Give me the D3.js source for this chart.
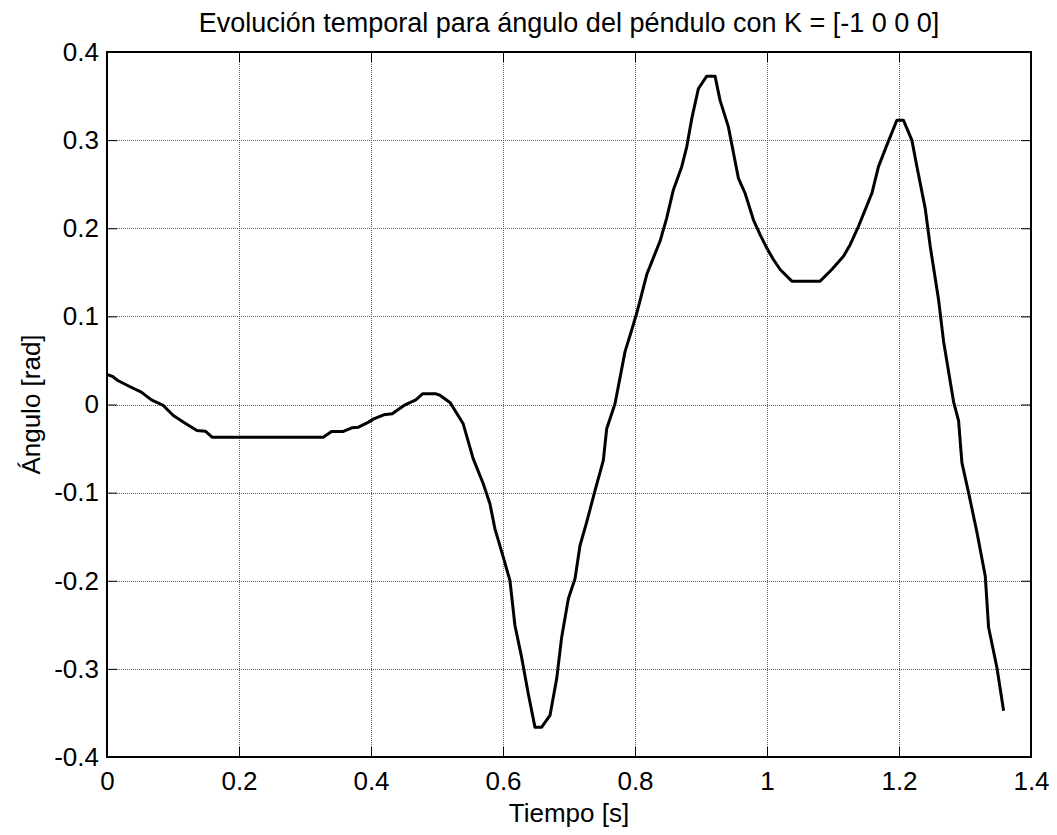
<!DOCTYPE html>
<html>
<head>
<meta charset="utf-8">
<script src="https://cdn.jsdelivr.net/npm/d3@7"></script>
<style>
  body { margin: 0; background: #fff; }
  svg text { font-family: "Liberation Sans", Arial, sans-serif; fill: #000; }
</style>
</head>
<body>
<script>
// tiempo [s] y ángulo [rad]
const tiempo = [
  0, 0.008, 0.0163, 0.0342, 0.052, 0.0673, 0.0852, 0.1005, 0.1184, 0.1362,
  0.149, 0.1592, 0.3276, 0.3403, 0.3582, 0.3709, 0.3811, 0.3964, 0.4041, 0.4194,
  0.4321, 0.45, 0.4679, 0.4781, 0.4985, 0.5045, 0.52, 0.5397, 0.5549, 0.56,
  0.5701, 0.5802, 0.5878, 0.6004, 0.6105, 0.6181, 0.6282, 0.6383, 0.6484, 0.6586,
  0.6712, 0.6813, 0.6889, 0.699, 0.7091, 0.7167, 0.7268, 0.7394, 0.752, 0.7571,
  0.7697, 0.7849, 0.795, 0.8026, 0.8178, 0.8278, 0.8379, 0.848, 0.8581, 0.8708,
  0.8784, 0.886, 0.896, 0.9087, 0.9213, 0.9289, 0.9415, 0.9567, 0.9668, 0.9794,
  0.9895, 0.9997, 1.0097, 1.0199, 1.0376, 1.0805, 1.0982, 1.1159, 1.126, 1.1386,
  1.1589, 1.1689, 1.1816, 1.1968, 1.2068, 1.2195, 1.2271, 1.2397, 1.2473, 1.2599,
  1.2675, 1.2827, 1.2903, 1.2953, 1.3054, 1.3181, 1.3307, 1.3357, 1.3484, 1.3585
];
const angulo = [
  0.034, 0.032, 0.0272, 0.0204, 0.014, 0.0053, -0.0011, -0.0125, -0.0212, -0.0295,
  -0.0303, -0.0371, -0.0371, -0.0306, -0.0306, -0.0265, -0.0257, -0.02, -0.0163, -0.0117,
  -0.0106, -0.0011, 0.0053, 0.0121, 0.0121, 0.0105, 0.002, -0.0219, -0.0617, -0.0711,
  -0.09, -0.1127, -0.1411, -0.1732, -0.1997, -0.2508, -0.2867, -0.3283, -0.3661, -0.3661,
  -0.3529, -0.3113, -0.264, -0.2205, -0.1978, -0.16, -0.1335, -0.0976, -0.0635, -0.0276,
  0.0008, 0.06, 0.0845, 0.1035, 0.1475, 0.1664, 0.1852, 0.2115, 0.2435, 0.2699,
  0.2924, 0.3244, 0.3583, 0.3726, 0.3726, 0.3451, 0.315, 0.2567, 0.2397, 0.2096,
  0.1927, 0.1776, 0.1645, 0.1532, 0.14, 0.14, 0.1532, 0.1682, 0.1814, 0.2021,
  0.2397, 0.2699, 0.2943, 0.3225, 0.3225, 0.3, 0.27, 0.2226, 0.1795, 0.1192,
  0.0719, 0.003, -0.0185, -0.0659, -0.1, -0.1451, -0.1946, -0.2527, -0.2988, -0.3475
];
const xTicks = [0, 0.2, 0.4, 0.6, 0.8, 1, 1.2, 1.4];
const xTickLabels = ["0", "0.2", "0.4", "0.6", "0.8", "1", "1.2", "1.4"];
const yTicks = [-0.4, -0.3, -0.2, -0.1, 0, 0.1, 0.2, 0.3, 0.4];
const yTickLabels = ["-0.4", "-0.3", "-0.2", "-0.1", "0", "0.1", "0.2", "0.3", "0.4"];

const W = 1057, H = 835;
const mLeft = 107, mRight = 1031, mTop = 52, mBottom = 757;
const tick = 10;

const x = d3.scaleLinear().domain([0, 1.4]).range([mLeft, mRight]);
const y = d3.scaleLinear().domain([-0.4, 0.4]).range([mBottom, mTop]);

const svg = d3.select("body").append("svg").attr("width", W).attr("height", H);

// rejilla punteada
svg.append("g")
  .selectAll("line")
  .data(xTicks.slice(1, -1))
  .enter()
  .append("line")
  .attr("x1", d => Math.round(x(d)) + 0.5)
  .attr("x2", d => Math.round(x(d)) + 0.5)
  .attr("y1", mTop)
  .attr("y2", mBottom)
  .attr("stroke", "#666")
  .attr("stroke-dasharray", "1,1");
svg.append("g")
  .selectAll("line")
  .data(yTicks.slice(1, -1))
  .enter()
  .append("line")
  .attr("y1", d => Math.round(y(d)) + 0.5)
  .attr("y2", d => Math.round(y(d)) + 0.5)
  .attr("x1", mLeft)
  .attr("x2", mRight)
  .attr("stroke", "#666")
  .attr("stroke-dasharray", "1,1");

// ejes con marcas hacia dentro
const fmtX = (d, i) => xTickLabels[i];
const fmtY = (d, i) => yTickLabels[i];
const gx = svg.append("g").attr("transform", `translate(0,${mBottom})`)
  .call(d3.axisBottom(x).tickValues(xTicks).tickFormat(fmtX).tickSizeInner(-tick).tickSizeOuter(0).tickPadding(15));
const gy = svg.append("g").attr("transform", `translate(${mLeft},0)`)
  .call(d3.axisLeft(y).tickValues(yTicks).tickFormat(fmtY).tickSizeInner(-tick).tickSizeOuter(0).tickPadding(8));
const gt = svg.append("g").attr("transform", `translate(0,${mTop})`)
  .call(d3.axisTop(x).tickValues(xTicks).tickFormat("").tickSizeInner(-tick).tickSizeOuter(0));
const gr = svg.append("g").attr("transform", `translate(${mRight},0)`)
  .call(d3.axisRight(y).tickValues(yTicks).tickFormat("").tickSizeInner(-tick).tickSizeOuter(0));
[gx, gy, gt, gr].forEach(g => {
  g.select(".domain").remove();
  g.selectAll(".tick line").attr("stroke", "#000").attr("stroke-width", 1);
  g.selectAll("text").attr("font-size", 26).attr("font-family", null);
});

// curva
const line = d3.line().x(d => x(d[0])).y(d => y(d[1]));
svg.append("path")
  .datum(tiempo.map((t, i) => [t, angulo[i]]))
  .attr("d", line)
  .attr("fill", "none")
  .attr("stroke", "#000")
  .attr("stroke-width", 3)
  .attr("stroke-linejoin", "round");

// caja
svg.append("rect")
  .attr("x", mLeft)
  .attr("y", mTop)
  .attr("width", mRight - mLeft)
  .attr("height", mBottom - mTop)
  .attr("fill", "none")
  .attr("stroke", "#000")
  .attr("stroke-width", 2);

svg.append("text")
  .attr("x", (mLeft + mRight) / 2)
  .attr("y", 32)
  .attr("text-anchor", "middle")
  .attr("font-size", 27)
  .text("Evolución temporal para ángulo del péndulo con K = [-1 0 0 0]");

svg.append("text")
  .attr("x", (mLeft + mRight) / 2)
  .attr("y", 822)
  .attr("text-anchor", "middle")
  .attr("font-size", 26)
  .text("Tiempo [s]");

svg.append("text")
  .attr("transform", `translate(40,${(mTop + mBottom) / 2}) rotate(-90)`)
  .attr("text-anchor", "middle")
  .attr("font-size", 26)
  .text("Ángulo [rad]");
</script>
</body>
</html>
